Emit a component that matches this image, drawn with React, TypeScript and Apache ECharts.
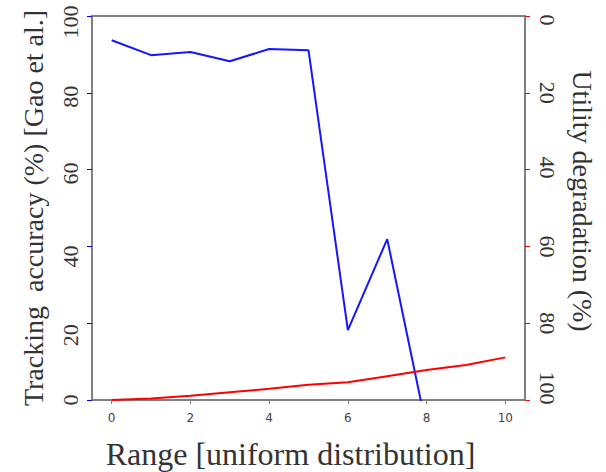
import React, { useEffect, useRef } from "react";
import * as echarts from "echarts";

const xValues = [0, 1, 2, 3, 4, 5, 6, 7, 8, 9, 10];
const trackingAccuracy = [93.7, 89.8, 90.6, 88.2, 91.4, 91.1, 18.2, 41.9, -7.4];
const utilityDegradation = [100, 99.6, 98.9, 98.0, 97.1, 96.0, 95.4, 93.8, 92.2, 90.9, 88.9];
const xTickLabels = [0, 2, 4, 6, 8, 10];

const serif = "Liberation Serif";
const tickFont = { fontFamily: serif, fontSize: 22, color: "#333" };

// per-label nudges (pixels along the rotated text direction)
const leftShift: Record<number, number> = { 0: 0, 20: 12, 40: 10, 60: 4, 80: 4, 100: 6 };
const rightShift: Record<number, number> = { 0: 4, 20: 0, 40: -2, 60: 0, 80: 0, 100: -12 };

function leftRich() {
  const rich: Record<string, any> = {};
  Object.keys(leftShift).forEach((k) => {
    const d = leftShift[Number(k)];
    rich["l" + k] = { ...tickFont, padding: [0, Math.max(0, 2 * d), 0, Math.max(0, -2 * d)] };
  });
  return rich;
}
function rightRich() {
  const rich: Record<string, any> = {};
  Object.keys(rightShift).forEach((k) => {
    const d = rightShift[Number(k)];
    rich["r" + k] = { ...tickFont, padding: [0, Math.max(0, -2 * d), 0, Math.max(0, 2 * d)] };
  });
  return rich;
}

export default function App() {
  const ref = useRef<HTMLDivElement>(null);
  useEffect(() => {
    if (!ref.current) return;
    const chart = echarts.init(ref.current, undefined, { renderer: "svg" });
    chart.setOption({
      animation: false,
      grid: {
        left: 92,
        right: 81,
        top: 16,
        bottom: 72,
        containLabel: false,
        outerBoundsMode: "none",
        show: true,
        borderColor: "#808080",
        borderWidth: 2,
        backgroundColor: "#ffffff",
      },
      xAxis: {
        type: "value",
        min: -0.5,
        max: 10.5,
        name: "Range [uniform distribution]",
        nameLocation: "middle",
        nameGap: 38,
        nameTextStyle: {
          fontFamily: serif,
          fontSize: 32,
          color: "#333",
          padding: [0, 36, 0, 0],
        },
        axisLine: { show: true, onZero: false, lineStyle: { color: "#808080", width: 2 } },
        axisTick: {
          show: true,
          length: 4,
          lineStyle: { color: "#808080", width: 1 },
          customValues: xTickLabels,
        },
        axisLabel: {
          customValues: xTickLabels,
          fontFamily: "DejaVu Sans",
          fontSize: 12,
          color: "#444",
          margin: 12,
        },
        splitLine: { show: false },
      },
      yAxis: [
        {
          type: "value",
          min: 0,
          max: 100,
          interval: 20,
          position: "left",
          name: "Tracking  accuracy (%) [Gao et al.]",
          nameLocation: "middle",
          nameRotate: 90,
          nameGap: 45,
          nameTextStyle: { fontFamily: serif, fontSize: 28, color: "#333" },
          axisLine: { show: true, onZero: false, lineStyle: { color: "#808080", width: 2 } },
          axisTick: { show: true, length: 5, lineStyle: { color: "#0000ff", width: 1 } },
          axisLabel: {
            rotate: 90,
            ...tickFont,
            margin: 11,
            formatter: (v: number) => "{l" + v + "|" + v + "}",
            rich: leftRich(),
          },
          splitLine: { show: false },
        },
        {
          type: "value",
          min: 0,
          max: 100,
          interval: 20,
          inverse: true,
          position: "right",
          name: "Utility degradation (%)",
          nameLocation: "middle",
          nameRotate: -90,
          nameGap: 43,
          nameTextStyle: {
            fontFamily: serif,
            fontSize: 28,
            color: "#333",
            padding: [0, 14, 0, 0],
          },
          axisLine: { show: true, onZero: false, lineStyle: { color: "#808080", width: 2 } },
          axisTick: { show: true, length: 5, lineStyle: { color: "#ff0000", width: 1 } },
          axisLabel: {
            rotate: -90,
            ...tickFont,
            margin: 11,
            formatter: (v: number) => "{r" + v + "|" + v + "}",
            rich: rightRich(),
          },
          splitLine: { show: false },
        },
      ],
      series: [
        {
          type: "line",
          yAxisIndex: 0,
          data: trackingAccuracy.map((v, i) => [xValues[i], v]),
          showSymbol: false,
          clip: true,
          lineStyle: { color: "#1515ff", width: 2 },
          itemStyle: { color: "#1515ff" },
        },
        {
          type: "line",
          yAxisIndex: 1,
          data: utilityDegradation.map((v, i) => [xValues[i], v]),
          showSymbol: false,
          clip: true,
          lineStyle: { color: "#ff0000", width: 2 },
          itemStyle: { color: "#ff0000" },
        },
      ],
    });
    return () => chart.dispose();
  }, []);
  return (
    <div
      ref={ref}
      style={{ position: "absolute", left: 0, top: 0, width: 606, height: 472 }}
    />
  );
}
